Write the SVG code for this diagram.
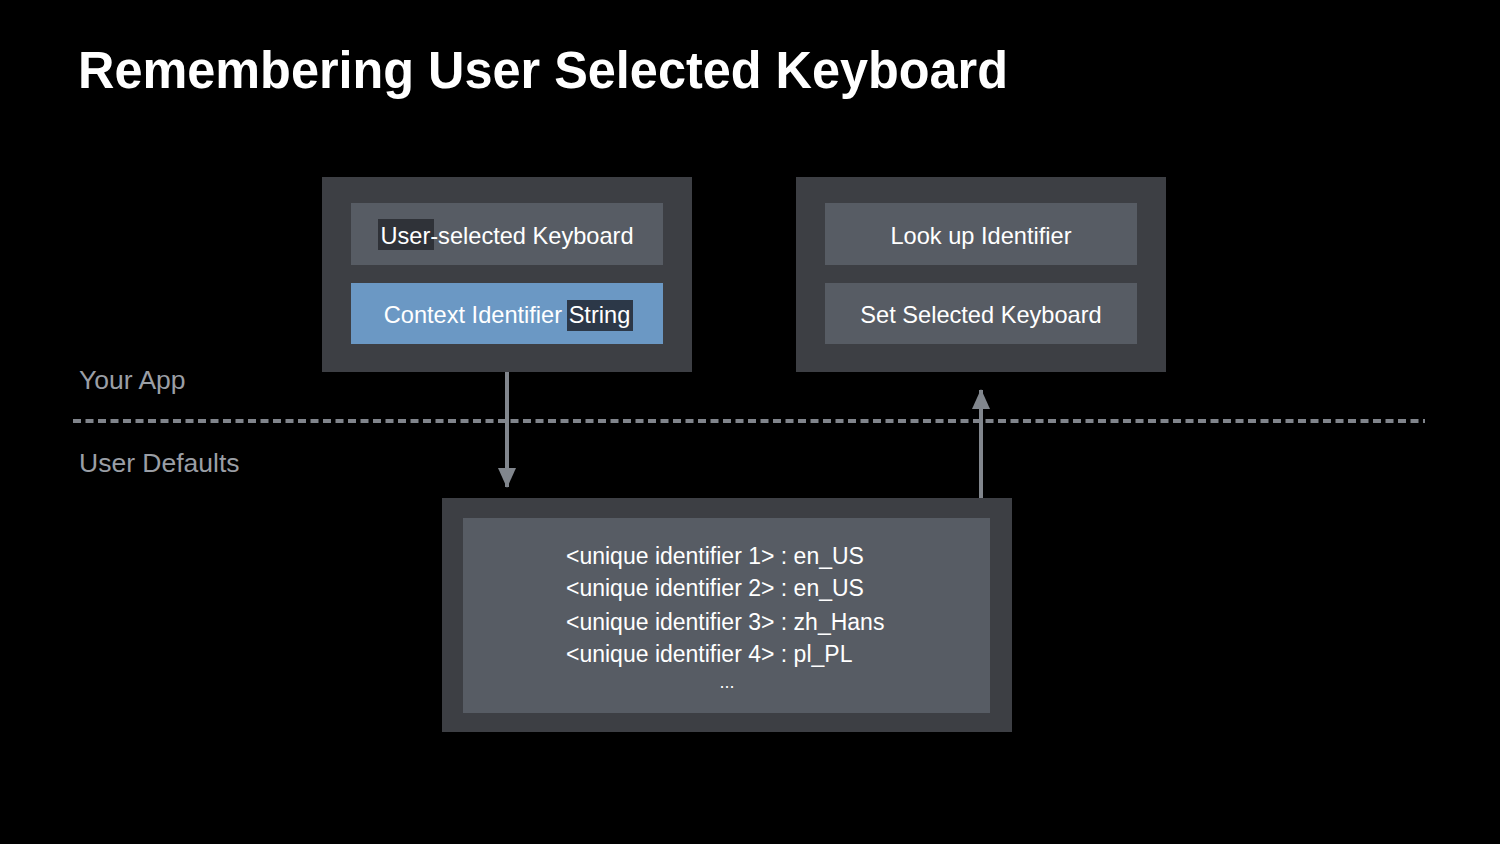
<svg xmlns="http://www.w3.org/2000/svg" width="1500" height="844" viewBox="0 0 1500 844">
<defs>
<style>
.outer{fill:#3d3f44}
.inner{fill:#575c64}
.blue{fill:#6b98c4}
.lbl{font-family:"Liberation Sans",Arial,sans-serif;font-size:23.6px;fill:#ffffff;text-anchor:middle}
.side{font-family:"Liberation Sans",Arial,sans-serif;font-size:26.5px;fill:#9a9ea5}
.mono{font-family:"Liberation Sans",Arial,sans-serif;font-size:23px;fill:#ffffff}
.conn{stroke:#81868d;stroke-width:4;fill:none}
</style>
<marker id="ah" viewBox="0 0 20 18" refX="19" refY="9" markerWidth="20" markerHeight="18" markerUnits="userSpaceOnUse" orient="auto">
<path d="M0,0 L20,9 L0,18 Z" fill="#81868d"/>
</marker>
</defs>
<rect width="1500" height="844" fill="#000"/>
<text x="78" y="88" font-family="Liberation Sans,Arial,sans-serif" font-weight="bold" font-size="51" fill="#fff" textLength="930" lengthAdjust="spacingAndGlyphs">Remembering User Selected Keyboard</text>
<text class="side" x="79" y="389">Your App</text>
<text class="side" x="79" y="472">User Defaults</text>
<line x1="73" y1="421" x2="1425" y2="421" stroke="#80848b" stroke-width="4" stroke-dasharray="8 4.5"/>
<g id="app-left">
<rect class="outer" x="322" y="177" width="370" height="195"/>
<rect class="inner" x="351" y="203" width="312" height="62"/>
<rect x="378" y="219" width="56" height="31" fill="#2f3238"/>
<text class="lbl" x="507" y="244">User-selected Keyboard</text>
<rect class="blue" x="351" y="283" width="312" height="61"/>
<rect x="567" y="300" width="66" height="31" fill="#2c3848"/>
<text class="lbl" x="507" y="323">Context Identifier String</text>
</g>
<g id="app-right">
<rect class="outer" x="796" y="177" width="370" height="195"/>
<rect class="inner" x="825" y="203" width="312" height="62"/>
<text class="lbl" x="981" y="244">Look up Identifier</text>
<rect class="inner" x="825" y="283" width="312" height="61"/>
<text class="lbl" x="981" y="323">Set Selected Keyboard</text>
</g>
<g id="defaults">
<rect class="outer" x="442" y="498" width="570" height="234"/>
<rect class="inner" x="463" y="518" width="527" height="195"/>
<text class="mono" x="566" y="564">&lt;unique identifier 1&gt; : en_US</text>
<text class="mono" x="566" y="596">&lt;unique identifier 2&gt; : en_US</text>
<text class="mono" x="566" y="630">&lt;unique identifier 3&gt; : zh_Hans</text>
<text class="mono" x="566" y="662">&lt;unique identifier 4&gt; : pl_PL</text>
<text x="727" y="688" font-family="Liberation Sans,Arial,sans-serif" font-size="18" fill="#fff" text-anchor="middle">...</text>
</g>
<g id="connectors">
<line class="conn" x1="507" y1="372" x2="507" y2="487" marker-end="url(#ah)"/>
<line class="conn" x1="981" y1="498" x2="981" y2="390" marker-end="url(#ah)"/>
</g>
</svg>
